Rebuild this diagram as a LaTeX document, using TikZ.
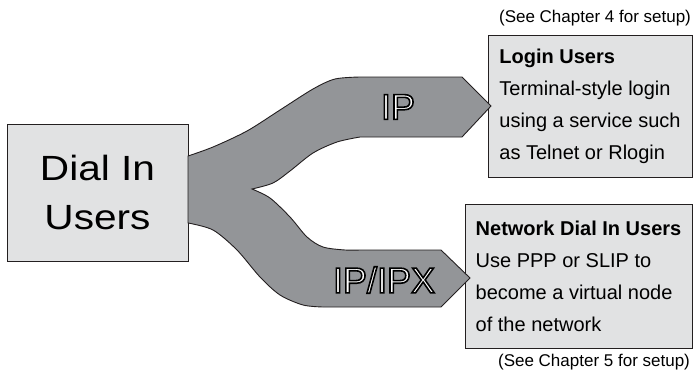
\documentclass[tikz,border=0pt]{standalone}
\usepackage{fontspec}
\setmainfont{Liberation Sans}
\newfontfamily\widefont[FakeStretch=1.16]{Liberation Sans}
\definecolor{boxfill}{HTML}{E1E2E3}
\definecolor{forkfill}{HTML}{939598}
\definecolor{edge}{HTML}{231F20}
\newcommand\outlinetext[1]{\special{pdf:literal direct 2 Tr 1.6 w 0 0 0 RG}#1\special{pdf:literal direct 0 Tr}}
\tikzset{
  greybox/.style={draw=edge, fill=boxfill, line width=1pt, inner sep=0pt},
  infotext/.style={align=left, font=\fontsize{20}{32}\selectfont},
  note/.style={font=\fontsize{17}{20}\selectfont, inner sep=0pt},
  flowlabel/.style={text=white, inner sep=0pt, font=\fontsize{36}{40}\selectfont},
  fork/.style={draw=edge, fill=forkfill, line width=0.9pt, line join=miter}
}
\begin{document}
\begin{tikzpicture}[x=1pt, y=-1pt]
\useasboundingbox (0,0) rectangle (694,375);
\node[greybox, minimum width=181, minimum height=137, align=center,
      font=\widefont\fontsize{35}{49}\selectfont] (dial) at (97.5,192.5) {Dial In\\Users};
\node[greybox, infotext, minimum width=204, minimum height=142] (login) at (590,106)
  {\textbf{Login Users}\\Terminal-style login\\using a service such\\as Telnet or Rlogin};
\node[greybox, infotext, minimum width=227, minimum height=144] (net) at (578.5,276)
  {\textbf{Network Dial In Users}\\Use PPP or SLIP to\\become a virtual node\\of the network};
\node[note] (note4) at (595,18) {(See Chapter 4 for setup)};
\node[note] (note5) at (594,362) {(See Chapter 5 for setup)};
\filldraw[fork]
  plot[smooth] coordinates {(188,156) (213,147) (247,131) (280,110) (313,89) (335,79) (360,77)}
  -- (462,77) -- (491,106) -- (462,137)
  -- plot[smooth] coordinates {(360,137) (337,142) (313,153) (290,171) (273,183) (252,189)}
  -- plot[smooth] coordinates {(252,189) (270,198) (290,217) (307,237) (323,247) (345,250) (360,250)}
  -- (441,250) -- (470,278) -- (441,307)
  -- plot[smooth] coordinates {(323,307) (303,305) (280,295) (260,277) (237,250) (213,230) (188,223)}
  -- cycle;
\node[flowlabel] (ip) at (398,107) {\outlinetext{IP}};
\node[flowlabel] (ipx) at (384,280) {\outlinetext{IP/IPX}};
\end{tikzpicture}
\end{document}
